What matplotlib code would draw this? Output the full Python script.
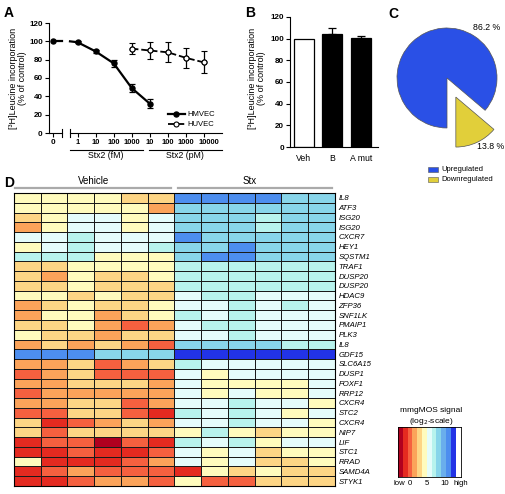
import matplotlib
matplotlib.use('Agg')
import numpy as np
from matplotlib import pyplot as plt
from matplotlib.colors import ListedColormap, BoundaryNorm
from matplotlib.lines import Line2D
from matplotlib.patches import Rectangle
from matplotlib.transforms import ScaledTranslation

plt.rcParams['font.family'] = ['Liberation Sans', 'DejaVu Sans']

# PANEL A DATA (concentrations in fM)
hm_zero = 100
hm_conc = [1, 10, 100, 1000, 10000]
hm_vals = [99, 89, 76, 49, 32]
hm_err = [1, 1.5, 3.5, 4, 5]
hu_conc = [1000, 10000, 1e5, 1e6, 1e7]
hu_vals = [92, 90, 88, 82, 77]
hu_err = [6, 9, 11, 11, 12]
a_ticks = [1, 10, 100, 1000, 1e4, 1e5, 1e6, 1e7]
a_ticklabels = ['1', '10', '100', '1000', '10', '100', '1000', '10000']

# PANEL B DATA
b_names = ['Veh', 'B', 'A mut']
b_vals = [100, 104, 101]
b_err = [0, 6, 1.5]
b_cols = ['white', 'black', 'black']

# PANEL C DATA
c_vals = [86.2, 13.8]
c_names = ['Upregulated', 'Downregulated']
c_cols = ['#2a50e6', '#e1cf3a']

# PANEL D DATA (colour level index per cell)
genes = ['IL8', 'ATF3', 'ISG20', 'ISG20', 'CXCR7', 'HEY1', 'SQSTM1', 'TRAF1',
         'DUSP20', 'DUSP20', 'HDAC9', 'ZFP36', 'SNF1LK', 'PMAIP1', 'PLK3', 'IL8',
         'GDF15', 'SLC6A15', 'DUSP1', 'FOXF1', 'RRP12', 'CXCR4', 'STC2', 'CXCR4',
         'NIP7', 'LIF', 'STC1', 'RRAD', 'SAMD4A', 'STYK1']
levels = [
    [5, 5, 5, 5, 4, 4, 10, 10, 10, 10, 8, 8],
    [5, 5, 5, 5, 5, 3, 8, 8, 8, 8, 8, 8],
    [4, 5, 6, 6, 5, 6, 8, 8, 8, 7, 8, 8],
    [3, 5, 6, 6, 5, 6, 8, 8, 8, 7, 8, 8],
    [6, 6, 7, 6, 6, 6, 10, 8, 8, 8, 8, 8],
    [5, 6, 7, 6, 6, 7, 8, 8, 10, 8, 8, 8],
    [7, 7, 7, 5, 5, 5, 8, 10, 10, 8, 8, 8],
    [4, 4, 5, 5, 5, 5, 7, 7, 7, 7, 7, 7],
    [4, 3, 5, 4, 4, 5, 7, 7, 7, 7, 7, 7],
    [4, 4, 5, 4, 4, 4, 7, 7, 7, 7, 7, 7],
    [5, 5, 4, 5, 4, 4, 6, 7, 7, 6, 6, 6],
    [3, 4, 5, 4, 4, 5, 6, 6, 7, 6, 7, 6],
    [3, 5, 5, 3, 4, 5, 7, 6, 7, 6, 6, 6],
    [4, 4, 5, 3, 2, 3, 6, 7, 7, 6, 6, 6],
    [5, 4, 4, 3, 4, 4, 6, 6, 7, 6, 6, 6],
    [3, 4, 3, 4, 3, 2, 8, 8, 8, 8, 7, 7],
    [10, 10, 10, 8, 8, 8, 11, 11, 11, 11, 11, 11],
    [3, 3, 4, 2, 3, 4, 7, 6, 6, 6, 6, 6],
    [2, 3, 4, 2, 2, 2, 6, 5, 6, 6, 6, 6],
    [3, 3, 4, 4, 4, 3, 6, 5, 5, 5, 5, 6],
    [2, 3, 3, 3, 3, 3, 6, 5, 6, 5, 5, 6],
    [3, 3, 4, 4, 2, 3, 6, 6, 7, 6, 6, 5],
    [2, 2, 4, 4, 2, 1, 7, 6, 7, 6, 5, 6],
    [4, 1, 2, 3, 4, 3, 6, 6, 7, 6, 6, 5],
    [4, 2, 4, 4, 4, 4, 5, 7, 5, 4, 5, 5],
    [1, 2, 2, 0, 2, 1, 7, 6, 7, 5, 6, 6],
    [1, 1, 2, 1, 1, 2, 6, 5, 6, 4, 5, 5],
    [5, 1, 1, 1, 2, 3, 6, 5, 6, 4, 4, 5],
    [1, 2, 3, 2, 2, 2, 1, 5, 4, 5, 4, 4],
    [1, 1, 2, 3, 3, 2, 5, 2, 2, 4, 4, 4],
]
palette = ['#b0001f', '#e42a20', '#f5603f', '#fba35a', '#fdd585', '#fffbbd',
           '#e5fcfb', '#b8f3ed', '#88d5ea', '#6aaeec', '#4d8eef', '#2233e6']
cbar_ticks = [0.2, 2.5, 5.9, 9.7, 13.1]
cbar_labels = ['low', '0', '5', '10', 'high']

W, H = 506, 494
fig = plt.figure(figsize=(W / 100, H / 100), dpi=100)


def box(l, t, r, b):
    # pixel box -> figure fraction rect
    return [l / W, 1 - b / H, (r - l) / W, (b - t) / H]


def fx(x):
    return x / W


def fy(y):
    return 1 - y / H


tickfont = dict(fontsize=5.8, fontweight='bold')
ylab = '[\u00b3H]Leucine incorporation\n(% of control)'

# # # # # PANEL A
ax0 = fig.add_axes(box(49, 23, 62, 133))
ax1 = fig.add_axes(box(70, 23, 222, 133))
for ax in (ax0, ax1):
    ax.set_ylim(0, 120)
    ax.spines['top'].set_visible(False)
    ax.spines['right'].set_visible(False)
    ax.patch.set_alpha(0)
ax0.set_xlim(-0.27, 0.73)
ax0.set_yticks(range(0, 121, 20))
ax0.set_yticklabels([str(v) for v in range(0, 121, 20)], **tickfont)
ax0.set_xticks([0])
ax0.set_xticklabels(['0'], **tickfont)
ax0.tick_params(length=3, width=0.8, pad=1.5)
ax1.spines['left'].set_visible(False)
ax1.set_yticks([])
ax1.set_xscale('log')
ax1.set_xlim(10 ** -0.42, 10 ** 8.0)
ax1.set_xticks(a_ticks)
ax1.set_xticklabels(a_ticklabels, fontsize=5.4, fontweight='bold')
ax1.minorticks_off()
ax1.tick_params(axis='x', length=3, width=0.8, pad=1.5)
# last label sits a bit right of its tick, as in the original
lbl = ax1.get_xticklabels()[-1]
lbl.set_transform(lbl.get_transform() + ScaledTranslation(5 / 100, 0, fig.dpi_scale_trans))
# break marks
ax0.plot([1, 1], [-0.035, 0.035], color='black', lw=0.8, transform=ax0.transAxes, clip_on=False)
ax1.plot([0, 0], [-0.035, 0.035], color='black', lw=0.8, transform=ax1.transAxes, clip_on=False)

# HMVEC
ax0.plot([0, 0.73], [hm_zero, hm_zero], color='black', lw=1.6, clip_on=False)
ax0.plot([0], [hm_zero], 'o', color='black', ms=3.6, clip_on=False)
ax1.plot([ax1.get_xlim()[0], hm_conc[0]], [hm_zero, hm_vals[0]], color='black', lw=1.6, clip_on=False)
ax1.errorbar(hm_conc, hm_vals, yerr=hm_err, fmt='-o', color='black', lw=1.6, ms=3.6,
             capsize=2.2, elinewidth=0.9, capthick=0.9, clip_on=False)
# HUVEC
ax1.errorbar(hu_conc, hu_vals, yerr=hu_err, fmt='o', color='black', ms=3.6, mfc='white',
             mew=0.8, capsize=2.2, elinewidth=0.9, capthick=0.9, clip_on=False)
ax1.plot(hu_conc, hu_vals, '--', color='black', lw=1.3)
ax1.plot(hu_conc, hu_vals, 'o', color='black', ms=3.6, mfc='white', mew=0.8, zorder=5)

handles = [Line2D([], [], color='black', lw=1.6, marker='o', ms=3.6),
           Line2D([], [], color='black', lw=1.3, ls='--', marker='o', ms=3.6, mfc='white', mew=0.8)]
ax1.legend(handles, ['HMVEC', 'HUVEC'], loc='lower left', bbox_to_anchor=(0.6, -0.02),
           frameon=False, fontsize=5.5, handlelength=2.2, handletextpad=0.3, labelspacing=0.35)

# group underlines
fig.add_artist(Line2D([fx(70), fx(143)], [fy(150), fy(150)], color='black', lw=0.8))
fig.add_artist(Line2D([fx(149), fx(222)], [fy(150), fy(150)], color='black', lw=0.8))
fig.text(fx(106), fy(155.5), 'Stx2 (fM)', fontsize=6.3, ha='center', va='center')
fig.text(fx(185), fy(155.5), 'Stx2 (pM)', fontsize=6.3, ha='center', va='center')
fig.text(fx(18), fy(78), ylab, fontsize=6.5, rotation=90, ha='center', va='center',
         multialignment='center', linespacing=1.0)

# # # # # PANEL B
axB = fig.add_axes(box(290, 17, 378, 147))
xb = np.arange(len(b_vals))
axB.bar(xb, b_vals, width=0.7, color=b_cols, edgecolor='black', lw=0.9)
axB.errorbar(xb[1:], b_vals[1:], yerr=[[0] * 2, b_err[1:]], fmt='none', ecolor='black',
             elinewidth=0.9, capsize=3, capthick=0.9)
axB.set_xlim(-0.49, 2.6)
axB.set_ylim(0, 120)
axB.spines['top'].set_visible(False)
axB.spines['right'].set_visible(False)
axB.set_yticks(range(0, 121, 20))
axB.set_yticklabels([str(v) for v in range(0, 121, 20)], **tickfont)
axB.set_xticks(xb)
axB.set_xticklabels(b_names, fontsize=6.3)
axB.tick_params(axis='y', length=3, width=0.8, pad=1.5)
axB.tick_params(axis='x', length=0, pad=5)
fig.text(fx(257), fy(78), ylab, fontsize=6.5, rotation=90, ha='center', va='center',
         multialignment='center', linespacing=1.0)

# # # # # PANEL C
axC = fig.add_axes(box(384.5, 15.5, 509.5, 140.5))
axC.pie(c_vals, colors=c_cols, startangle=-40.3, explode=[0, 0.42],
        wedgeprops=dict(edgecolor='#555555', linewidth=0.5))
axC.set_xlim(-1.25, 1.25)
axC.set_ylim(-1.25, 1.25)
axC.text(0.52, 1.0, '%.1f %%' % c_vals[0], fontsize=6.3, ha='left', va='center')
axC.text(0.6, -1.38, '%.1f %%' % c_vals[1], fontsize=6.3, ha='left', va='center')
for i in range(len(c_names)):
    y0 = 167 + i * 10
    fig.add_artist(Rectangle((fx(428), fy(y0 + 5.5)), 10 / W, 5.5 / H, facecolor=c_cols[i],
                             edgecolor='#555555', lw=0.4))
    fig.text(fx(441), fy(y0 + 2.7), c_names[i], fontsize=5.5, ha='left', va='center')

# # # # # PANEL D
axD = fig.add_axes(box(14, 193, 335, 486))
cmap = ListedColormap(palette)
norm = BoundaryNorm(np.arange(len(palette) + 1) - 0.5, len(palette))
mat = np.array(levels)
axD.pcolormesh(mat, cmap=cmap, norm=norm, edgecolors='#1a1a1a', linewidth=0.7)
axD.set_xlim(0, mat.shape[1])
axD.set_ylim(mat.shape[0], 0)
axD.set_xticks([])
axD.yaxis.tick_right()
axD.set_yticks(np.arange(len(genes)) + 0.5)
axD.set_yticklabels(genes, fontsize=5.6, fontstyle='italic')
axD.tick_params(axis='y', length=0, pad=2.5)
for s in axD.spines.values():
    s.set_linewidth(0.8)

fig.add_artist(Line2D([fx(15), fx(171)], [fy(188), fy(188)], color='#aaaaaa', lw=1.6))
fig.add_artist(Line2D([fx(178), fx(332)], [fy(188), fy(188)], color='#aaaaaa', lw=1.6))
fig.text(fx(94), fy(181), 'Vehicle', fontsize=7, ha='center', va='center')
fig.text(fx(250), fy(181), 'Stx', fontsize=7, ha='center', va='center')

# colour key
axK = fig.add_axes(box(398, 427, 461, 477))
axK.pcolormesh(np.arange(len(palette))[None, :], cmap=cmap, norm=norm)
axK.set_xlim(0, len(palette))
axK.set_yticks([])
axK.set_xticks(cbar_ticks)
axK.set_xticklabels(cbar_labels, fontsize=5.6)
axK.tick_params(axis='x', length=0, pad=2)
for s in axK.spines.values():
    s.set_linewidth(0.6)
fig.text(fx(431), fy(410), 'mmgMOS signal', fontsize=6, ha='center', va='center')
fig.text(fx(431), fy(421), '(log$_2$-scale)', fontsize=6, ha='center', va='center')

# panel letters
for lab, x, y in [('A', 4, 13), ('B', 245, 13), ('C', 388, 14), ('D', 4, 183)]:
    fig.text(fx(x), fy(y), lab, fontsize=10, fontweight='bold', ha='left', va='center')

fig.savefig('out.png', dpi=100)
